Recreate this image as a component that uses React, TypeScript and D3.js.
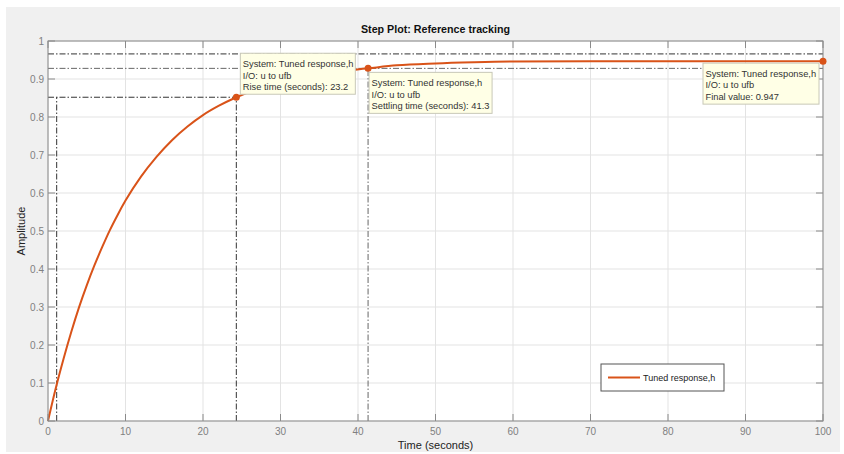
import React from 'react';
import * as d3 from 'd3';

// step response samples
const times = [0, 1, 2, 3, 4, 5, 6, 7, 8, 9, 10, 12, 14, 16, 18, 20, 22, 24.3, 27, 30, 33, 36, 41.3, 45, 50, 55, 60, 70, 80, 90, 100];
const amps = [0, 0.086, 0.163, 0.234, 0.299, 0.357, 0.41, 0.458, 0.503, 0.543, 0.58, 0.643, 0.695, 0.739, 0.775, 0.805, 0.829, 0.852, 0.874, 0.892, 0.905, 0.916, 0.928, 0.936, 0.941, 0.944, 0.946, 0.947, 0.947, 0.947, 0.947];

const xTicks = [0, 10, 20, 30, 40, 50, 60, 70, 80, 90, 100];
const yTicks = [0, 0.1, 0.2, 0.3, 0.4, 0.5, 0.6, 0.7, 0.8, 0.9, 1];

// characteristics
const riseStart = 1.12;
const riseEnd = 24.3;
const riseLevel = 0.852;
const settleTime = 41.3;
const settleUpper = 0.966;
const settleLower = 0.928;
const finalTime = 100;
const finalValue = 0.947;

const tipLines = [
  ['System: Tuned response,h', 'I/O: u to ufb', 'Rise time (seconds): 23.2'],
  ['System: Tuned response,h', 'I/O: u to ufb', 'Settling time (seconds): 41.3'],
  ['System: Tuned response,h', 'I/O: u to ufb', 'Final value: 0.947'],
];

const W = 844;
const H = 454;
const margin = { left: 48, right: 21, top: 41, bottom: 33 };
const orange = '#d95319';
const font = '"Liberation Sans", Arial, sans-serif';
const dashDot = '6,2,1.5,2';

const App: React.FC = () => {
  const x = d3.scaleLinear().domain([0, 100]).range([margin.left, W - margin.right]);
  const y = d3.scaleLinear().domain([0, 1]).range([H - margin.bottom, margin.top]);
  const pts = times.map((t, i) => [t, amps[i]] as [number, number]);
  const line = d3.line<[number, number]>().x(d => x(d[0])).y(d => y(d[1])).curve(d3.curveMonotoneX);

  const [x0, x1] = x.range();
  const [y0, y1] = y.range();

  // datatip boxes: offset from the marker, width
  const tips = [
    { px: x(riseEnd), py: y(riseLevel), dx: 4, dy: -44, w: 115 },
    { px: x(settleTime), py: y(settleLower), dx: 1, dy: 4, w: 123 },
    { px: x(finalTime), py: y(finalValue), dx: -120, dy: 2, w: 116 },
  ];

  return (
    <svg width={W} height={H} style={{ position: 'absolute', left: 0, top: 0, fontFamily: font }}>
      <rect x={0} y={0} width={W} height={H} fill="#fff" />
      <rect x={6} y={7} width={834} height={445} fill="#f0f0f0" />
      <rect x={x0} y={y1} width={x1 - x0} height={y0 - y1} fill="#fff" />

      {/* grid */}
      {xTicks.map(t => (
        <line key={'gx' + t} x1={x(t)} x2={x(t)} y1={y0} y2={y1} stroke="#e3e3e3" />
      ))}
      {yTicks.map(t => (
        <line key={'gy' + t} x1={x0} x2={x1} y1={y(t)} y2={y(t)} stroke="#e3e3e3" />
      ))}

      {/* characteristic lines */}
      <g fill="none" strokeWidth={1} strokeDasharray={dashDot}>
        <line x1={x0} x2={x(riseEnd)} y1={y(riseLevel)} y2={y(riseLevel)} stroke="#333" />
        <line x1={x(riseStart)} x2={x(riseStart)} y1={y0} y2={y(riseLevel)} stroke="#333" />
        <line x1={x(riseEnd)} x2={x(riseEnd)} y1={y0} y2={y(riseLevel)} stroke="#333" />
        <line x1={x0} x2={x1} y1={y(settleUpper)} y2={y(settleUpper)} stroke="#333" />
        <line x1={x0} x2={x1} y1={y(settleLower)} y2={y(settleLower)} stroke="#666" />
        <line x1={x(settleTime)} x2={x(settleTime)} y1={y0} y2={y(settleLower)} stroke="#666" />
      </g>

      {/* response */}
      <path d={line(pts) ?? ''} fill="none" stroke={orange} strokeWidth={2} />

      {/* axes box + inward ticks */}
      <g stroke="#8a8a8a" strokeWidth={1}>
        <rect x={x0} y={y1} width={x1 - x0} height={y0 - y1} fill="none" />
        {xTicks.map(t => (
          <g key={'tx' + t}>
            <line x1={x(t)} x2={x(t)} y1={y0} y2={y0 - 7} />
            <line x1={x(t)} x2={x(t)} y1={y1} y2={y1 + 7} />
          </g>
        ))}
        {yTicks.map(t => (
          <g key={'ty' + t}>
            <line x1={x0} x2={x0 + 7} y1={y(t)} y2={y(t)} />
            <line x1={x1} x2={x1 - 7} y1={y(t)} y2={y(t)} />
          </g>
        ))}
      </g>

      {/* tick labels */}
      <g fill="#808080" fontSize={10}>
        {xTicks.map(t => (
          <text key={'lx' + t} x={x(t)} y={y0 + 14} textAnchor="middle">{t}</text>
        ))}
        {yTicks.map(t => (
          <text key={'ly' + t} x={x0 - 4} y={y(t) + 3.5} textAnchor="end">{d3.format('~g')(t)}</text>
        ))}
      </g>

      <text x={(x0 + x1) / 2} y={33} textAnchor="middle" fontSize={10.7} fontWeight="bold" fill="#111">
        Step Plot: Reference tracking
      </text>
      <text x={(x0 + x1) / 2} y={449} textAnchor="middle" fontSize={11} fill="#222">Time (seconds)</text>
      <text transform={`translate(25,${(y0 + y1) / 2}) rotate(-90)`} textAnchor="middle" fontSize={11} fill="#222">
        Amplitude
      </text>

      {/* datatip markers */}
      {tips.map((tp, i) => (
        <circle key={'m' + i} cx={tp.px} cy={tp.py} r={3.5} fill={orange} />
      ))}

      {/* datatips */}
      {tips.map((tp, i) => {
        const bx = tp.px + tp.dx;
        const by = tp.py + tp.dy;
        return (
          <g key={'tip' + i}>
            <rect x={bx} y={by} width={tp.w} height={41} fill="#ffffe6" stroke="#c8c8b8" />
            {tipLines[i].map((s, j) => (
              <text key={j} x={bx + 2.5} y={by + 13.5 + j * 11.8} fontSize={9.3} fill="#333">{s}</text>
            ))}
          </g>
        );
      })}

      {/* legend */}
      <g>
        <rect x={601} y={364} width={123} height={27} fill="#fff" stroke="#555" />
        <line x1={608} x2={640} y1={377.5} y2={377.5} stroke={orange} strokeWidth={2} />
        <text x={643} y={381} fontSize={9} fill="#222">Tuned response,h</text>
      </g>
    </svg>
  );
};

export default App;
